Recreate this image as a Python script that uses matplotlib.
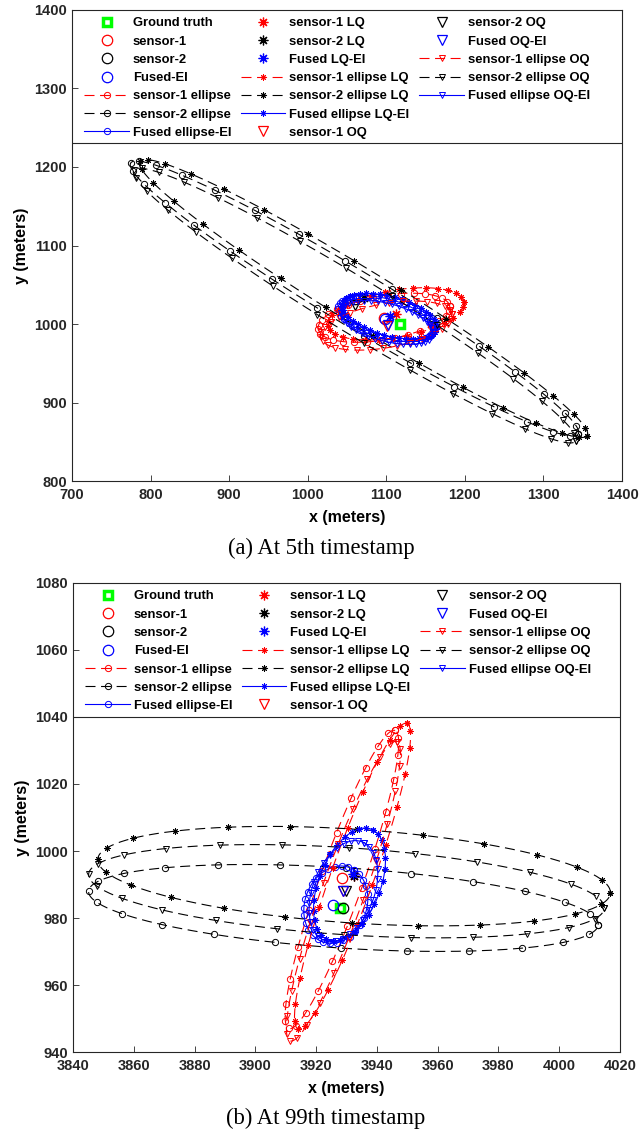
import matplotlib.pyplot as plt
import numpy as np

plt.rcParams["font.family"] = ["Liberation Sans", "DejaVu Sans"]
plt.rcParams["font.weight"] = "bold"

# order of estimates / ellipses:
# sensor-1, sensor-2, Fused-EI, sensor-1 LQ, sensor-2 LQ, Fused LQ-EI, sensor-1 OQ, sensor-2 OQ, Fused OQ-EI

# ---- (a) 5th timestamp ----
truth_a = [1118, 1000]
est_x_a = [1097, 1060, 1098, 1112, 1071, 1105, 1101, 1060, 1102]
est_y_a = [1008, 1032, 1006, 1013, 1033, 1010, 998, 1024, 999]
ell_cx_a = [1097, 1059.5, 1099, 1112, 1071, 1104, 1100, 1060, 1101]
ell_cy_a = [1008, 1032.5, 1007, 1013, 1032.5, 1010, 998, 1023.5, 1002]
ell_a_a = [85, 333, 62, 88, 334, 62, 85, 330, 60]
ell_b_a = [28, 35, 25, 30, 35, 25, 28, 35, 24]
ell_ang_a = [10, -31.2, -15, 10, -31.5, -15, 10, -31.5, -15]

# ---- (b) 99th timestamp ----
truth_b = [3928, 983]
est_x_b = [3928.5, 3929, 3925.5, 3932.5, 3932.5, 3932, 3929, 3930, 3929]
est_y_b = [992, 983, 984, 992.5, 992.5, 993, 988, 988, 988]
ell_cx_b = [3928.5, 3929, 3926.5, 3932, 3932.5, 3931, 3929, 3930, 3929]
ell_cy_b = [991.5, 983, 984, 992.5, 992.5, 990, 988, 988, 988]
ell_a_b = [47.8, 84, 12, 49, 84.5, 18, 48, 85, 16]
ell_b_b = [7, 12, 10, 7, 14, 10, 7, 13, 10]
ell_ang_b = [68.5, -3.4, 60, 68.5, -3.4, 65, 68.5, -3.4, 65]

names = ["sensor-1", "sensor-2", "Fused-EI", "sensor-1 LQ", "sensor-2 LQ", "Fused LQ-EI",
         "sensor-1 OQ", "sensor-2 OQ", "Fused OQ-EI"]
ell_names = ["sensor-1 ellipse", "sensor-2 ellipse", "Fused ellipse-EI",
             "sensor-1 ellipse LQ", "sensor-2 ellipse LQ", "Fused ellipse LQ-EI",
             "sensor-1 ellipse OQ", "sensor-2 ellipse OQ", "Fused ellipse OQ-EI"]
colors = ["red", "black", "blue"]
markers = ["o", (8, 2, 0), "v"]


def ellipse_xy(cx, cy, a, b, ang, n=241):
    t = np.linspace(0, 2 * np.pi, n)
    th = np.deg2rad(ang)
    x = cx + a * np.cos(t) * np.cos(th) - b * np.sin(t) * np.sin(th)
    y = cy + a * np.cos(t) * np.sin(th) + b * np.sin(t) * np.cos(th)
    return x, y


def draw_panel(ax, truth, ex, ey, cx, cy, aa, bb, ang, every, leg_dx, leg_dy):
    h = {}
    h["Ground truth"] = ax.plot(truth[0], truth[1], "s", ms=6, mfc="white", mec="#00ff00", mew=2.5,
                                ls="none")[0]
    for k in range(3):  # method: EI, LQ, OQ
        for s in range(3):  # sensor-1, sensor-2, fused
            i = 3 * k + s
            h[names[i]] = ax.plot(ex[i], ey[i], marker=markers[k], color=colors[s], mfc="none",
                                  ms=7.5 if k != 1 else 7, mew=0.9, ls="none")[0]
        for s in range(3):
            i = 3 * k + s
            x, y = ellipse_xy(cx[i], cy[i], aa[i], bb[i], ang[i])
            ln, = ax.plot(x, y, color=colors[s], lw=0.8, marker=markers[k],
                          ms=4.5, mfc="none", mew=0.7, markevery=every[s])
            if s < 2:
                ln.set_dashes((9, 5))
            h[ell_names[i]] = ln
    order = ["Ground truth", names[0], names[1], names[2], ell_names[0], ell_names[1], ell_names[2],
             names[3], names[4], names[5], ell_names[3], ell_names[4], ell_names[5],
             names[6], names[7], names[8], ell_names[6], ell_names[7], ell_names[8]]
    handles = [h[o] for o in order]
    blank, = ax.plot([], [], ls="none")
    leg = ax.legend(handles + [blank], order + [""], ncol=3, loc="upper left",
                    bbox_to_anchor=(leg_dx, 1.0 + leg_dy), frameon=False, fontsize=9.4,
                    handlelength=3.4, handletextpad=0.3, columnspacing=0.75, labelspacing=0.47,
                    borderaxespad=0.15, borderpad=0.3)
    for t in leg.get_texts():
        t.set_fontweight("bold")
    for sp in ax.spines.values():
        sp.set_color("#262626")
        sp.set_linewidth(0.8)
    ax.tick_params(direction="in", length=4, width=0.6, colors="#262626", labelsize=10.5,
                   top=False, right=False)
    ax.tick_params(axis="x", pad=5)
    ax.set_xlabel("x (meters)", fontsize=11.5, fontweight="bold", labelpad=6)
    ax.set_ylabel("y (meters)", fontsize=11.5, fontweight="bold", labelpad=4)


fig = plt.figure(figsize=(6.39, 11.44), dpi=100)
ax1 = fig.add_axes([0.1127, 0.5795, 0.8607, 0.4118])
ax2 = fig.add_axes([0.1142, 0.0804, 0.8560, 0.4100])

draw_panel(ax1, truth_a, est_x_a, est_y_a, ell_cx_a, ell_cy_a, ell_a_a, ell_b_a, ell_ang_a,
           [8, 8, 6], 0.012, -0.003)
ax1.axhline(1231, color="#262626", lw=0.8)
ax1.set_xlim(700, 1400)
ax1.set_ylim(800, 1400)
ax1.set_xticks(np.arange(700, 1401, 100))
ax1.set_yticks(np.arange(800, 1401, 100))

draw_panel(ax2, truth_b, est_x_b, est_y_b, ell_cx_b, ell_cy_b, ell_a_b, ell_b_b, ell_ang_b,
           [10, 10, 8], 0.012, -0.003)
ax2.axhline(1040, color="#262626", lw=0.8)
ax2.set_xlim(3840, 4020)
ax2.set_ylim(940, 1080)
ax2.set_xticks(np.arange(3840, 4021, 20))
ax2.set_yticks(np.arange(940, 1081, 20))

for lbl in ax1.get_xticklabels() + ax1.get_yticklabels() + ax2.get_xticklabels() + ax2.get_yticklabels():
    lbl.set_fontweight("bold")

fig.text(0.503, 0.521, "(a) At 5th timestamp", ha="center", va="center", fontsize=16.3,
         family="Liberation Serif", fontweight="normal")
fig.text(0.51, 0.0225, "(b) At 99th timestamp", ha="center", va="center", fontsize=16.3,
         family="Liberation Serif", fontweight="normal")

fig.savefig("out.png", dpi=100)
